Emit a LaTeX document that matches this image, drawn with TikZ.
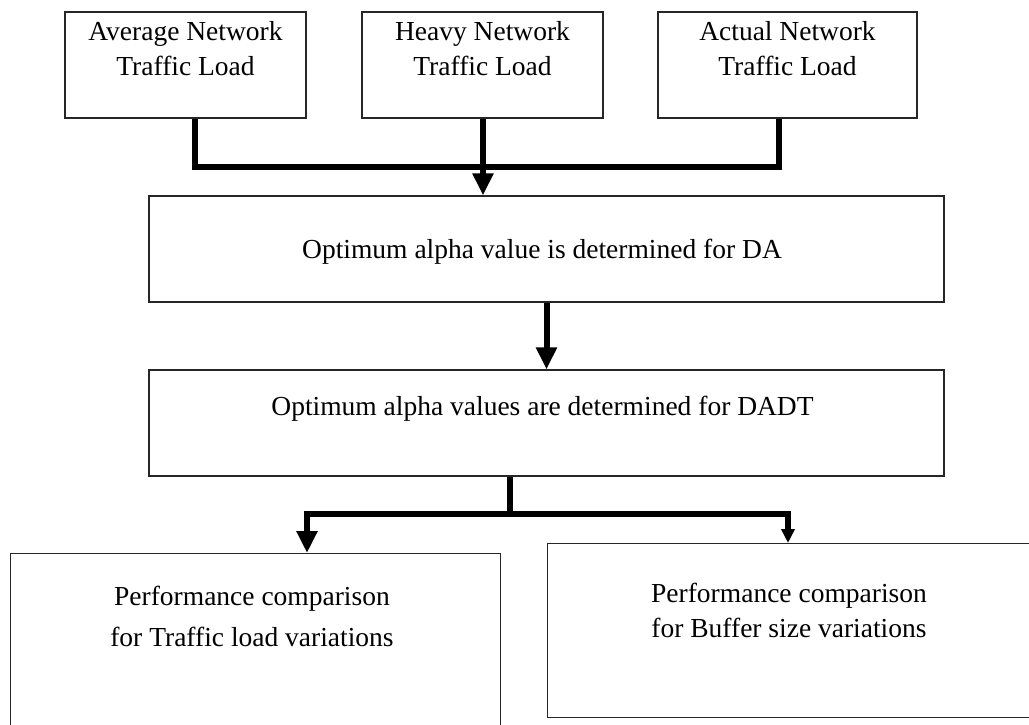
\documentclass[tikz,border=0pt]{standalone}
\usepackage{fontspec}
\setmainfont{Liberation Serif}
\usetikzlibrary{arrows.meta}

\begin{document}
\begin{tikzpicture}[x=1pt,y=-1pt,
  box/.style={draw=black!85, line width=1.3pt, rectangle, inner sep=0pt},
  conn/.style={draw=black, line width=6pt, line join=miter},
  arr/.style={conn, -{Triangle[length=22pt,width=20pt]}},
  smallarr/.style={conn, -{Triangle[length=14pt,width=13pt]}},
  lbl/.style={inner sep=0pt, align=center, font=\fontsize{27.5}{35}\selectfont},
  lblwide/.style={lbl, font=\fontsize{27.5}{41}\selectfont}]

\clip (0,0) rectangle (1029,724);
\fill[white] (0,0) rectangle (1029,724);

% three input loads
\node[box, minimum width=241pt, minimum height=106pt] (avg)   at (185.5,65) {};
\node[box, minimum width=241pt, minimum height=106pt] (heavy) at (482.5,65) {};
\node[box, minimum width=259pt, minimum height=106pt] (act)   at (787.5,65) {};
\node[lbl, anchor=north] (avgtxt)   at (185.5,21) {Average Network\\Traffic Load};
\node[lbl, anchor=north] (heavytxt) at (482.5,21) {Heavy Network\\Traffic Load};
\node[lbl, anchor=north] (acttxt)   at (787.5,21) {Actual Network\\Traffic Load};

% tuning stages
\node[box, minimum width=795pt, minimum height=106pt] (da)   at (546.5,249) {};
\node[lbl, anchor=base] (datxt) at (542,258) {Optimum alpha value is determined for DA};
\node[box, minimum width=795pt, minimum height=106pt] (dadt) at (546.5,423) {};
\node[lbl, anchor=base] (dadttxt) at (542.5,415) {Optimum alpha values are determined for DADT};

% comparisons
\node[box, minimum width=490pt, minimum height=200pt, anchor=north west] (cmpT) at (10,553) {};
\node[lblwide, anchor=north] (cmpTtxt) at (252,586) {Performance comparison\\for Traffic load variations};
\node[box, minimum width=500pt, minimum height=174pt, anchor=north west] (cmpB) at (547,543) {};
\node[lbl, anchor=north] (cmpBtxt) at (789,583) {Performance comparison\\for Buffer size variations};

% merging bus from the loads
\coordinate (busL) at (195,167);
\coordinate (busM) at (483,167);
\coordinate (busR) at (779,167);
\draw[conn] (busL |- avg.south) -- (busL) -- (busR) -- (busR |- act.south);
\draw[conn] (busM |- heavy.south) -- (busM);
\draw[arr] (busM) -- (busM |- da.north);

\draw[arr] (da.south) -- (dadt.north);

% split towards the two comparisons
\coordinate (split) at (510,514);
\coordinate (forkL) at (307,514);
\coordinate (forkR) at (788,514);
\draw[conn] (split |- dadt.south) -- (split);
\draw[arr] (split) -- (forkL) -- (forkL |- cmpT.north);
\draw[smallarr] (split) -- (forkR) -- (forkR |- cmpB.north);

\end{tikzpicture}
\end{document}
